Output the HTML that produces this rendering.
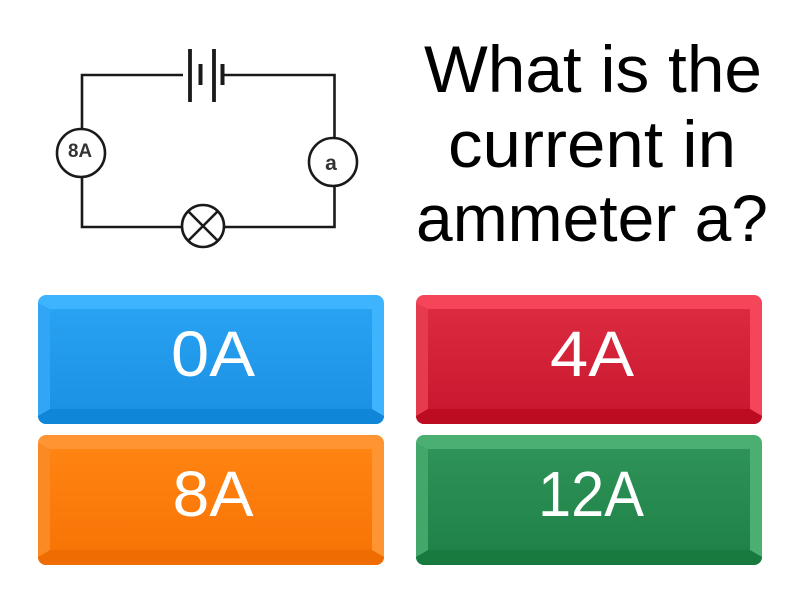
<!DOCTYPE html>
<html><head><meta charset="utf-8"><style>
html,body{margin:0;padding:0;background:#fff;width:800px;height:600px;overflow:hidden}
svg{display:block}
text{font-family:"Liberation Sans",sans-serif}
</style></head><body>
<svg width="800" height="600" viewBox="0 0 800 600" xmlns="http://www.w3.org/2000/svg">
<defs>
<linearGradient id="b" x1="0" y1="0" x2="0" y2="1"><stop offset="0" stop-color="#28a2f2"/><stop offset="1" stop-color="#1c92e4"/></linearGradient>
<linearGradient id="r" x1="0" y1="0" x2="0" y2="1"><stop offset="0" stop-color="#dc2a40"/><stop offset="1" stop-color="#ca1830"/></linearGradient>
<linearGradient id="o" x1="0" y1="0" x2="0" y2="1"><stop offset="0" stop-color="#ff8412"/><stop offset="1" stop-color="#f87406"/></linearGradient>
<linearGradient id="g" x1="0" y1="0" x2="0" y2="1"><stop offset="0" stop-color="#2e9358"/><stop offset="1" stop-color="#208248"/></linearGradient>
</defs>

<!-- circuit -->
<g fill="none" stroke="#1a1a1a" stroke-width="2.6">
<path d="M183 75H82V129M82 177V227H181M225 227H334.500V138M334.500 138V138M334.500 138V75H223"/>
<circle cx="81" cy="153" r="24" fill="#fff"/>
<circle cx="333" cy="162" r="24" fill="#fff"/>
<circle cx="203" cy="226" r="21" fill="#fff"/>
<path d="M188 211L218 241M218 211L188 241"/>
</g>
<g stroke="#1a1a1a" fill="none">
<path d="M190 49V102M214 49V102" stroke-width="3.8"/>
<path d="M200.500 64V85M222.500 64V85" stroke-width="4"/>
</g>
<text x="80" y="157" font-size="19" font-weight="700" text-anchor="middle" fill="#333" textLength="24" lengthAdjust="spacingAndGlyphs">8A</text>
<text x="331" y="170" font-size="21" font-weight="700" text-anchor="middle" fill="#333">a</text>

<!-- question -->
<g font-size="66" fill="#000" text-anchor="middle">
<text x="593" y="92" textLength="338" lengthAdjust="spacingAndGlyphs">What is the</text>
<text x="592" y="167" textLength="288" lengthAdjust="spacingAndGlyphs">current in</text>
<text x="592" y="241" textLength="352" lengthAdjust="spacingAndGlyphs">ammeter a?</text>
</g>

<!-- blue -->
<rect x="38" y="295" width="346" height="129" rx="8" fill="#3fb4fe"/>
<path d="M38 303L50 309V409L38 416Z" fill="#30a6f4"/>
<path d="M38 416L50 409H372L384 416A8 8 0 0 1 376 424H46A8 8 0 0 1 38 416Z" fill="#0f86d8"/>
<rect x="50" y="309" width="322" height="100" fill="url(#b)"/>
<!-- red -->
<rect x="416" y="295" width="346" height="129" rx="8" fill="#f44559"/>
<path d="M416 303L428 309V409L416 416Z" fill="#e63a4e"/>
<path d="M416 416L428 409H750L762 416A8 8 0 0 1 754 424H424A8 8 0 0 1 416 416Z" fill="#bc0c22"/>
<rect x="428" y="309" width="322" height="100" fill="url(#r)"/>
<!-- orange -->
<rect x="38" y="435" width="346" height="130" rx="8" fill="#ff9432"/>
<path d="M38 443L50 449V550L38 557Z" fill="#fb8a22"/>
<path d="M38 557L50 550H372L384 557A8 8 0 0 1 376 565H46A8 8 0 0 1 38 557Z" fill="#ee6c02"/>
<rect x="50" y="449" width="322" height="101" fill="url(#o)"/>
<!-- green -->
<rect x="416" y="435" width="346" height="130" rx="8" fill="#4caf72"/>
<path d="M416 443L428 449V550L416 557Z" fill="#44a76a"/>
<path d="M416 557L428 550H750L762 557A8 8 0 0 1 754 565H424A8 8 0 0 1 416 557Z" fill="#187a3e"/>
<rect x="428" y="449" width="322" height="101" fill="url(#g)"/>

<g font-size="64" fill="#fff" text-anchor="middle">
<text x="213" y="376" textLength="84" lengthAdjust="spacingAndGlyphs">0A</text>
<text x="592" y="376" textLength="84" lengthAdjust="spacingAndGlyphs">4A</text>
<text x="213" y="516" textLength="81" lengthAdjust="spacingAndGlyphs">8A</text>
<text x="591" y="516" textLength="106" lengthAdjust="spacingAndGlyphs">12A</text>
</g>
</svg>
</body></html>
